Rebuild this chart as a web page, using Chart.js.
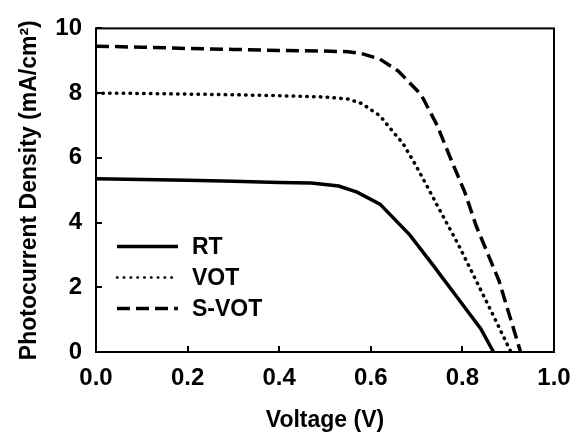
<!DOCTYPE html>
<html lang="en">
<head>
    <meta charset="UTF-8">
    <title>Photocurrent density vs voltage</title>
    <script src="https://cdn.jsdelivr.net/npm/chart.js"></script>
    <style>
        body { margin: 0; background: #fff; }
        #wrap { width: 584px; height: 434px; }
    </style>
</head>
<body>
    <div id="wrap"><canvas id="jvChart"></canvas></div>

    <script>
        // J-V curves (V, mA/cm2)
        const seriesNames = ['RT', 'VOT', 'S-VOT'];

        const rtVoltage = [0, 0.1, 0.2, 0.3, 0.4, 0.47, 0.53, 0.57, 0.62, 0.685, 0.735, 0.795, 0.84, 0.868];
        const rtCurrent = [5.35, 5.33, 5.31, 5.28, 5.24, 5.22, 5.13, 4.94, 4.57, 3.62, 2.7, 1.57, 0.72, 0];

        const votVoltage = [0, 0.1, 0.2, 0.3, 0.4, 0.5, 0.55, 0.58, 0.62, 0.65, 0.67, 0.695, 0.72, 0.75, 0.79, 0.825, 0.865, 0.906];
        const votCurrent = [8.0, 7.99, 7.97, 7.95, 7.92, 7.88, 7.82, 7.68, 7.3, 6.78, 6.45, 5.85, 5.2, 4.4, 3.35, 2.35, 1.2, 0];

        const svotVoltage = [0, 0.1, 0.2, 0.3, 0.4, 0.5, 0.55, 0.58, 0.62, 0.66, 0.71, 0.745, 0.775, 0.805, 0.83, 0.88, 0.927];
        const svotCurrent = [9.45, 9.42, 9.38, 9.35, 9.32, 9.3, 9.28, 9.22, 9.05, 8.68, 7.95, 7.0, 5.95, 4.95, 3.9, 2.2, 0];

        const xTicks = [0, 0.2, 0.4, 0.6, 0.8, 1.0];
        const yTicks = [0, 2, 4, 6, 8, 10];

        const toPoints = (xs, ys) => xs.map((v, i) => ({ x: v, y: ys[i] }));

        const FONT = '"Liberation Sans", Arial, sans-serif';

        // box around the plot, inward tick marks and the legend inside the plot
        const framePlugin = {
            id: 'frame',
            afterDatasetsDraw(chart) {
                const { ctx, chartArea: a, scales: { x, y } } = chart;
                ctx.save();
                ctx.strokeStyle = '#000';
                ctx.lineWidth = 2;
                ctx.strokeRect(a.left, a.top, a.right - a.left, a.bottom - a.top);

                ctx.beginPath();
                xTicks.forEach(t => {
                    const px = Math.round(x.getPixelForValue(t));
                    ctx.moveTo(px, a.bottom);
                    ctx.lineTo(px, a.bottom - 6);
                });
                yTicks.forEach(t => {
                    const py = Math.round(y.getPixelForValue(t));
                    ctx.moveTo(a.left, py);
                    ctx.lineTo(a.left + 6, py);
                });
                ctx.stroke();

                // legend
                ctx.font = 'bold 23px ' + FONT;
                ctx.textBaseline = 'middle';
                ctx.fillStyle = '#000';
                chart.data.datasets.forEach((ds, i) => {
                    const ly = a.top + 218 + i * 31;
                    ctx.beginPath();
                    ctx.lineWidth = i === 1 ? 2.5 : ds.borderWidth;
                    ctx.lineCap = ds.borderCapStyle || 'butt';
                    ctx.setLineDash(ds.borderDash || []);
                    ctx.moveTo(a.left + 21, ly);
                    ctx.lineTo(a.left + 82, ly);
                    ctx.stroke();
                    ctx.setLineDash([]);
                    ctx.fillText(ds.label, a.left + 96, ly + 1);
                });
                ctx.restore();
            }
        };

        new Chart(document.getElementById('jvChart'), {
            type: 'line',
            data: {
                datasets: [
                    {
                        label: seriesNames[0],
                        data: toPoints(rtVoltage, rtCurrent),
                        borderColor: '#000',
                        borderWidth: 3.5,
                        borderDash: [],
                        borderCapStyle: 'butt'
                    },
                    {
                        label: seriesNames[1],
                        data: toPoints(votVoltage, votCurrent),
                        borderColor: '#000',
                        borderWidth: 3.5,
                        borderDash: [0.5, 6.3],
                        borderCapStyle: 'round'
                    },
                    {
                        label: seriesNames[2],
                        data: toPoints(svotVoltage, svotCurrent),
                        borderColor: '#000',
                        borderWidth: 3.5,
                        borderDash: [13, 6],
                        borderCapStyle: 'butt'
                    }
                ]
            },
            options: {
                responsive: true,
                maintainAspectRatio: false,
                animation: false,
                layout: { padding: { top: 20, right: 30, left: 0, bottom: 0 } },
                elements: { point: { radius: 0 }, line: { tension: 0 } },
                plugins: {
                    legend: { display: false },
                    tooltip: { enabled: false }
                },
                scales: {
                    x: {
                        type: 'linear',
                        min: 0,
                        max: 1,
                        afterFit: s => { s.height = 82; },
                        afterBuildTicks: s => { s.ticks = xTicks.map(v => ({ value: v })); },
                        grid: { display: false, drawTicks: false },
                        border: { display: false },
                        ticks: {
                            padding: 12,
                            color: '#000',
                            font: { family: FONT, size: 24, weight: 'bold' },
                            callback: v => v.toFixed(1)
                        },
                        title: {
                            display: true,
                            text: 'Voltage (V)',
                            color: '#000',
                            font: { family: FONT, size: 23, weight: 'bold' },
                            padding: { top: 0, bottom: 0 }
                        }
                    },
                    y: {
                        min: 0,
                        max: 10,
                        afterFit: s => { s.width = 96; },
                        afterBuildTicks: s => { s.ticks = yTicks.map(v => ({ value: v })); },
                        grid: { display: false, drawTicks: false },
                        border: { display: false },
                        ticks: {
                            padding: 14,
                            color: '#000',
                            font: { family: FONT, size: 24, weight: 'bold' },
                            callback: v => v
                        },
                        title: {
                            display: true,
                            text: 'Photocurrent Density (mA/cm²)',
                            color: '#000',
                            font: { family: FONT, size: 23, weight: 'bold' },
                            padding: { top: 16, bottom: 0 }
                        }
                    }
                }
            },
            plugins: [framePlugin]
        });
    </script>
</body>
</html>
